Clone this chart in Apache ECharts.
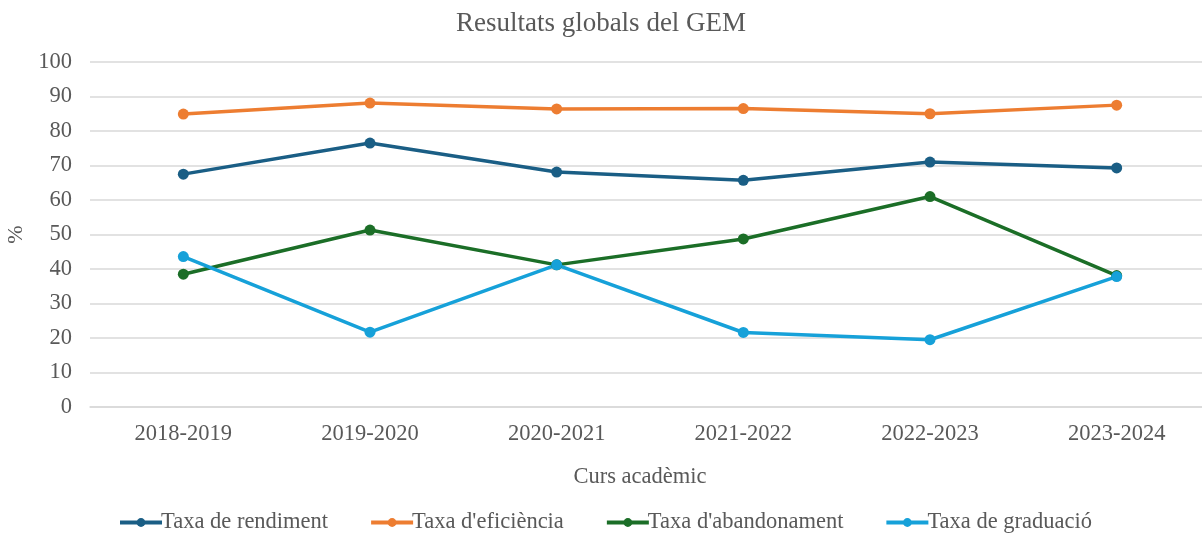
<!DOCTYPE html>
<html lang="ca">
<head>
    <meta charset="UTF-8">
    <title>Resultats globals del GEM</title>
    <script src="https://cdn.jsdelivr.net/npm/echarts@6/dist/echarts.min.js"></script>
    <style>
        html, body { margin: 0; padding: 0; background: #fff; }
        #chart { width: 1202px; height: 533px; }
    </style>
</head>
<body>
<div id="chart"></div>
<script>
    // dades
    var cursos = ['2018-2019', '2019-2020', '2020-2021', '2021-2022', '2022-2023', '2023-2024'];
    var taxaRendiment = [67.5, 76.5, 68.1, 65.7, 71.0, 69.3];
    var taxaEficiencia = [84.9, 88.1, 86.4, 86.5, 85.0, 87.5];
    var taxaAbandonament = [38.5, 51.3, 41.2, 48.7, 61.0, 38.1];
    var taxaGraduacio = [43.6, 21.7, 41.2, 21.6, 19.5, 37.8];

    var font = '"Liberation Serif", "Times New Roman", serif';
    var grey = '#595959';

    var chart = echarts.init(document.getElementById('chart'));

    function serie(name, data, color) {
        return {
            name: name,
            type: 'line',
            data: data,
            symbol: 'circle',
            symbolSize: 11,
            lineStyle: { width: 3.5, color: color },
            itemStyle: { color: color },
            animation: false
        };
    }

    var option = {
        title: {
            text: 'Resultats globals del GEM',
            left: 'center',
            top: 5,
            textStyle: { fontFamily: font, fontWeight: 'normal', fontSize: 27, color: grey }
        },
        legend: {
            top: 506,
            left: 113,
            itemGap: 41,
            itemWidth: 42,
            itemHeight: 11,
            lineStyle: { width: 4 },
            textStyle: { fontFamily: font, fontSize: 22.5, color: grey, padding: [0, 0, 0, -6] },
            data: ['Taxa de rendiment', "Taxa d'eficiència", "Taxa d'abandonament", 'Taxa de graduació']
        },
        grid: { left: 90, top: 62, width: 1120, bottom: 126, outerBoundsMode: 'none' },
        xAxis: {
            type: 'category',
            data: cursos,
            name: 'Curs acadèmic',
            nameLocation: 'middle',
            nameGap: 59,
            nameTextStyle: { fontFamily: font, fontSize: 22.5, color: grey, padding: [0, 20, 0, 0] },
            axisLine: { show: true, lineStyle: { color: '#d9d9d9', width: 1.5 } },
            axisTick: { show: false },
            axisLabel: { fontFamily: font, fontSize: 22.5, color: grey, margin: 16 }
        },
        yAxis: {
            type: 'value',
            min: 0,
            max: 100,
            interval: 10,
            name: '%',
            nameLocation: 'middle',
            nameGap: 62,
            nameTextStyle: { fontFamily: font, fontSize: 22, color: grey },
            axisLine: { show: false },
            axisTick: { show: false },
            axisLabel: { fontFamily: font, fontSize: 22.5, color: grey, margin: 18 },
            splitLine: { lineStyle: { color: '#d9d9d9', width: 1.5 } }
        },
        series: [
            serie('Taxa de rendiment', taxaRendiment, '#1a5e85'),
            serie("Taxa d'eficiència", taxaEficiencia, '#ed7d31'),
            serie("Taxa d'abandonament", taxaAbandonament, '#1b6e27'),
            serie('Taxa de graduació', taxaGraduacio, '#16a1d9')
        ]
    };

    chart.setOption(option);
</script>
</body>
</html>
